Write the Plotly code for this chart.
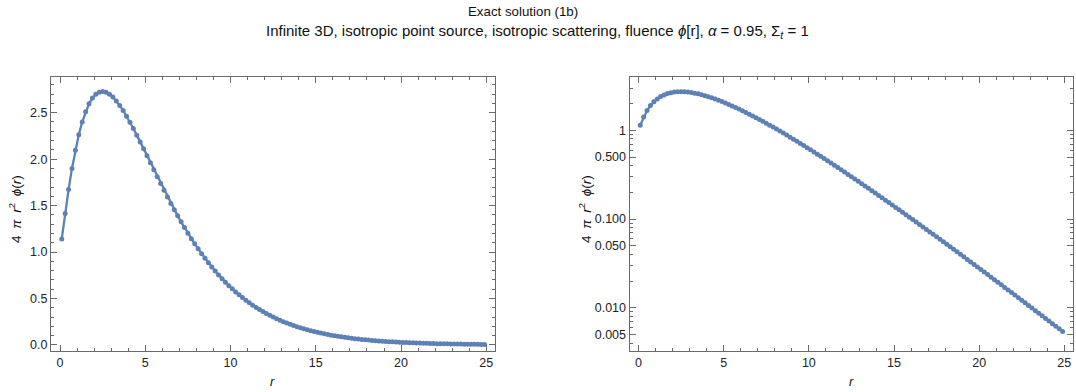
import plotly.graph_objects as go

# Radial positions (mean free paths) at which the solution is tabulated
r_values = [
    0.1, 0.3, 0.5, 0.7, 0.9, 1.1, 1.3, 1.5, 1.7, 1.9,
    2.1, 2.3, 2.5, 2.7, 2.9, 3.1, 3.3, 3.5, 3.7, 3.9,
    4.1, 4.3, 4.5, 4.7, 4.9, 5.1, 5.3, 5.5, 5.7, 5.9,
    6.1, 6.3, 6.5, 6.7, 6.9, 7.1, 7.3, 7.5, 7.7, 7.9,
    8.1, 8.3, 8.5, 8.7, 8.9, 9.1, 9.3, 9.5, 9.7, 9.9,
    10.1, 10.3, 10.5, 10.7, 10.9, 11.1, 11.3, 11.5, 11.7, 11.9,
    12.1, 12.3, 12.5, 12.7, 12.9, 13.1, 13.3, 13.5, 13.7, 13.9,
    14.1, 14.3, 14.5, 14.7, 14.9, 15.1, 15.3, 15.5, 15.7, 15.9,
    16.1, 16.3, 16.5, 16.7, 16.9, 17.1, 17.3, 17.5, 17.7, 17.9,
    18.1, 18.3, 18.5, 18.7, 18.9, 19.1, 19.3, 19.5, 19.7, 19.9,
    20.1, 20.3, 20.5, 20.7, 20.9, 21.1, 21.3, 21.5, 21.7, 21.9,
    22.1, 22.3, 22.5, 22.7, 22.9, 23.1, 23.3, 23.5, 23.7, 23.9,
    24.1, 24.3, 24.5, 24.7, 24.9,
]

# 4*pi*r^2*phi(r) for the isotropic point source (alpha = 0.95, Sigma_t = 1)
flux_r2 = [
    1.1392, 1.4136, 1.6720, 1.9001, 2.0968, 2.2632, 2.4008, 2.5107, 2.5954, 2.6571,
    2.6983, 2.7211, 2.7275, 2.7195, 2.6990, 2.6677, 2.6271, 2.5786, 2.5235, 2.4629,
    2.3979, 2.3295, 2.2584, 2.1854, 2.1110, 2.0359, 1.9606, 1.8855, 1.8109, 1.7372,
    1.6646, 1.5933, 1.5236, 1.4556, 1.3894, 1.3251, 1.2628, 1.2025, 1.1443, 1.0882,
    1.0342, 0.98222, 0.93235, 0.88453, 0.83872, 0.79487, 0.75296, 0.71293, 0.67473, 0.63831,
    0.60360, 0.57056, 0.53913, 0.50924, 0.48084, 0.45387, 0.42827, 0.40400, 0.38098, 0.35917,
    0.33852, 0.31896, 0.30046, 0.28295, 0.26640, 0.25076, 0.23599, 0.22203, 0.20885, 0.19641,
    0.18467, 0.17360, 0.16317, 0.15333, 0.14405, 0.13532, 0.12709, 0.11934, 0.11204, 0.10518,
    0.098717, 0.092639, 0.086921, 0.081545, 0.076490, 0.071738, 0.067273, 0.063077, 0.059135, 0.055432,
    0.051955, 0.048689, 0.045624, 0.042747, 0.040046, 0.037512, 0.035135, 0.032904, 0.030812, 0.028850,
    0.027010, 0.025285, 0.023668, 0.022152, 0.020731, 0.019400, 0.018152, 0.016984, 0.015889, 0.014863,
    0.013903, 0.013003, 0.012161, 0.011373, 0.010634, 0.0099434, 0.0092961, 0.0086903, 0.0081241, 0.0075936,
    0.0070976, 0.0066335, 0.0061993, 0.0057931, 0.0054132,
]

# Tick definitions
x_ticks = [0, 5, 10, 15, 20, 25]
lin_ticks = [0.0, 0.5, 1.0, 1.5, 2.0, 2.5]
lin_tick_text = ["0.0", "0.5", "1.0", "1.5", "2.0", "2.5"]
log_ticks = [0.005, 0.01, 0.05, 0.1, 0.5, 1]
log_tick_text = ["0.005", "0.010", "0.050", "0.100", "0.500", "1"]
log_minor = [0.004, 0.006, 0.007, 0.008, 0.009,
             0.02, 0.03, 0.04, 0.06, 0.07, 0.08, 0.09,
             0.2, 0.3, 0.4, 0.6, 0.7, 0.8, 0.9, 2, 3]

W, H = 1076, 392
BLUE = "#5E81B5"
FRAME = "#6a6a6a"
FONT = "Liberation Sans, Arial, sans-serif"

fig = go.Figure()
for xa, ya in (("x", "y"), ("x2", "y2")):
    fig.add_trace(go.Scatter(
        x=r_values, y=flux_r2, xaxis=xa, yaxis=ya,
        mode="lines+markers",
        line=dict(color=BLUE, width=2.3),
        marker=dict(color=BLUE, size=5),
        showlegend=False, hoverinfo="skip",
    ))

frame = dict(
    showline=True, linecolor=FRAME, linewidth=1, mirror="allticks",
    ticks="inside", ticklen=6, tickwidth=1, tickcolor=FRAME,
    showgrid=False, zeroline=False,
    tickfont=dict(family=FONT, size=12.5, color="#222"),
)

def x_axis(domain, anchor):
    return dict(frame, domain=domain, anchor=anchor, range=[-0.53, 25.48],
                tickmode="array", tickvals=x_ticks,
                minor=dict(ticks="inside", ticklen=3, tickcolor=FRAME,
                           dtick=1, tick0=0, showgrid=False))

ytop, ybot = 1 - 77.7 / H, 1 - 352.3 / H
fig.update_layout(
    width=W, height=H, margin=dict(l=0, r=0, t=0, b=0),
    paper_bgcolor="white", plot_bgcolor="white",
    font=dict(family=FONT, size=12, color="#222"),
    xaxis=x_axis([51 / W, 494.5 / W], "y"),
    xaxis2=x_axis([629.5 / W, 1072.5 / W], "y2"),
    yaxis=dict(frame, domain=[ybot, ytop], anchor="x", range=[-0.06, 2.881],
               tickmode="array", tickvals=lin_ticks, ticktext=lin_tick_text,
               minor=dict(ticks="inside", ticklen=3, tickcolor=FRAME,
                          dtick=0.1, tick0=0, showgrid=False)),
    yaxis2=dict(frame, domain=[ybot, ytop], anchor="x2", type="log",
                range=[-2.481, 0.598],
                tickmode="array", tickvals=log_ticks, ticktext=log_tick_text,
                minor=dict(ticks="inside", ticklen=3, tickcolor=FRAME,
                           tickmode="array", tickvals=log_minor, showgrid=False)),
)

sp = "&#8194;"
ylabel = f"4{sp}<i>π</i>{sp}<i>r</i><sup>2</sup>{sp}<i>ϕ</i>(<i>r</i>)"
notes = [
    dict(text="Exact solution (1b)", x=523 / W, y=1 - 12 / H, size=13.3),
    dict(text="Infinite 3D, isotropic point source, isotropic scattering, fluence "
              "<i>ϕ</i>[r], <i>α</i> = 0.95, Σ<sub><i>t</i></sub> = 1",
         x=537 / W, y=1 - 32 / H, size=15),
    dict(text="<i>r</i>", x=272.7 / W, y=1 - 383 / H, size=13),
    dict(text="<i>r</i>", x=851 / W, y=1 - 383 / H, size=13),
    dict(text=ylabel, x=15 / W, y=1 - 210 / H, size=13.5, angle=-90),
    dict(text=ylabel, x=585 / W, y=1 - 210 / H, size=13.5, angle=-90),
]
for n in notes:
    fig.add_annotation(
        text=n["text"], x=n["x"], y=n["y"], xref="paper", yref="paper",
        xanchor="center", yanchor="middle", showarrow=False,
        textangle=n.get("angle", 0),
        font=dict(family=FONT, size=n["size"], color="#111"),
    )

fig.write_html("out.html")
